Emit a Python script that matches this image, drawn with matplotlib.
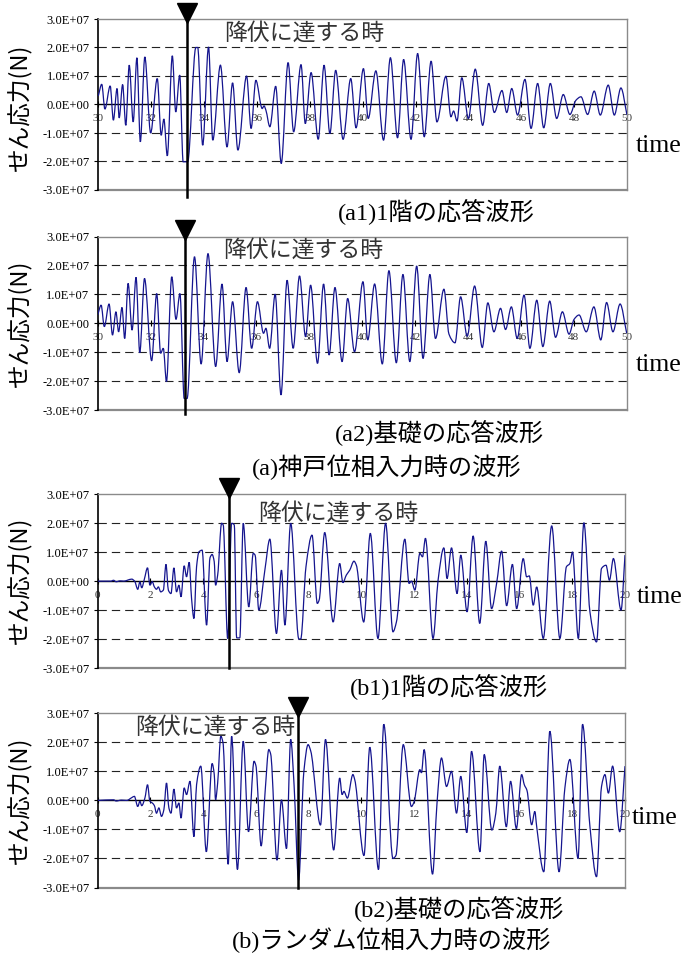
import matplotlib
matplotlib.use('Agg')
import matplotlib.pyplot as plt
import matplotlib.transforms as mtransforms
from matplotlib.path import Path
from matplotlib.patches import PathPatch
import numpy as np

# Shear force waveforms, values in units of 1.0E+07 N
a1_time = [30.00, 30.13, 30.25, 30.45, 30.57, 30.71, 30.79, 30.92, 31.04, 31.17, 31.32, 31.46, 31.59, 31.76,
           31.98, 32.23, 32.38, 32.48, 32.61, 32.80, 32.93, 33.08, 33.21, 33.38, 33.69, 33.76, 33.95, 34.17,
           34.33, 34.62, 34.87, 35.08, 35.28, 35.61, 35.78, 35.96, 36.20, 36.27, 36.34, 36.49, 36.71, 36.92,
           37.18, 37.39, 37.67, 37.83, 38.05, 38.32, 38.54, 38.76, 38.98, 39.26, 39.55, 39.75, 40.03, 40.21,
           40.50, 40.79, 41.05, 41.32, 41.55, 41.83, 42.08, 42.33, 42.59, 42.81, 43.15, 43.34, 43.44, 43.57,
           43.75, 44.00, 44.26, 44.54, 44.77, 44.98, 45.27, 45.45, 45.64, 45.86, 46.14, 46.37, 46.62, 46.85,
           47.10, 47.34, 47.59, 47.84, 48.07, 48.26, 48.51, 48.76, 48.99, 49.29, 49.52, 49.77, 50.00]
a1_force = [0.30, 0.71, -0.16, 0.65, -0.55, 0.56, -0.47, 0.70, -0.73, 1.38, -0.61, 1.64, -1.31, 1.67,
            -1.00, 0.91, -1.08, -0.51, -1.80, 1.71, -0.26, 1.03, -2.01, -2.01, 2.00, 2.00, -1.43, 2.02,
            -1.25, 1.38, -1.49, 0.76, -1.60, 1.00, -0.84, 0.85, -0.14, -0.05, -0.20, -0.78, 0.64, -2.07,
            1.47, -0.96, 1.40, -0.67, 1.12, -1.22, 1.38, -1.02, 1.20, -1.22, 0.91, -0.82, 1.26, -0.49,
            1.18, -1.25, 1.64, -1.17, 1.58, -1.22, 1.79, -1.13, 1.52, -0.61, 0.99, -0.43, -0.23, -0.58,
            0.94, -0.49, 1.24, -0.73, 0.74, -0.28, 0.49, -0.28, 0.56, -0.37, 0.88, -0.84, 0.74, -0.82,
            0.74, -0.49, 0.35, -0.35, 0.15, 0.27, -0.35, 0.47, -0.37, 0.68, -0.37, 0.58, -0.37]

a2_time = [30.00, 30.13, 30.25, 30.43, 30.56, 30.69, 30.79, 30.92, 31.02, 31.15, 31.30, 31.45, 31.59, 31.77,
           32.04, 32.23, 32.38, 32.48, 32.60, 32.80, 32.96, 33.11, 33.27, 33.38, 33.66, 33.91, 34.17, 34.46,
           34.70, 34.89, 35.10, 35.35, 35.61, 35.82, 36.04, 36.27, 36.36, 36.50, 36.71, 36.93, 37.16, 37.39,
           37.63, 37.86, 38.05, 38.31, 38.54, 38.75, 38.97, 39.24, 39.45, 39.71, 40.03, 40.21, 40.47, 40.76,
           41.01, 41.29, 41.54, 41.80, 42.06, 42.30, 42.56, 42.77, 43.09, 43.28, 43.51, 43.72, 43.97, 44.25,
           44.54, 44.75, 44.98, 45.23, 45.42, 45.64, 45.86, 46.12, 46.34, 46.60, 46.83, 47.09, 47.31, 47.57,
           47.82, 48.01, 48.20, 48.47, 48.76, 49.02, 49.24, 49.48, 49.75, 50.00]
a2_force = [0.29, 0.63, -0.11, 0.67, -0.40, 0.40, -0.29, 0.55, -0.52, 1.38, -0.23, 1.59, -1.01, 1.55,
            -1.29, 1.03, -1.03, -0.86, -2.01, 1.61, 0.14, 1.03, -2.59, -2.59, 2.30, -1.40, 2.41, -1.49,
            1.36, -1.32, 0.75, -1.70, 1.24, -0.86, 0.75, -0.34, -0.17, -0.86, 1.01, -2.47, 1.49, -0.86,
            1.64, -0.46, 1.32, -1.38, 1.36, -1.09, 1.24, -1.32, 0.86, -0.98, 1.44, -0.57, 1.36, -1.40,
            1.82, -1.36, 1.69, -1.32, 1.98, -1.21, 1.69, -0.52, 1.18, -0.37, -0.67, 0.92, -0.44, 1.29,
            -0.83, 0.71, -0.29, 0.52, -0.21, 0.57, -0.52, 0.98, -0.86, 0.80, -0.80, 0.77, -0.48, 0.40,
            -0.37, 0.14, 0.29, -0.29, 0.57, -0.57, 0.72, -0.29, 0.67, -0.34]

b1_time = [0.0, 0.5, 0.6, 0.7, 0.85, 1.0, 1.15, 1.29, 1.4, 1.52, 1.6, 1.67, 1.77, 1.89, 1.98, 2.07, 2.15,
           2.23, 2.3, 2.39, 2.49, 2.59, 2.68, 2.78, 2.89, 2.99, 3.08, 3.16, 3.28, 3.37, 3.47, 3.56, 3.65,
           3.75, 3.84, 3.96, 4.13, 4.26, 4.34, 4.42, 4.47, 4.55, 4.7, 4.76, 4.93, 5.08, 5.18, 5.27, 5.39,
           5.52, 5.73, 5.9, 5.97, 6.11, 6.34, 6.53, 6.78, 6.97, 7.1, 7.32, 7.63, 7.7, 7.9, 8.13, 8.33, 8.4,
           8.61, 8.93, 9.18, 9.3, 9.43, 9.56, 9.72, 9.81, 10.09, 10.34, 10.63, 10.92, 11.2, 11.33, 11.65,
           11.81, 11.9, 12.03, 12.22, 12.32, 12.43, 12.72, 12.91, 13.13, 13.25, 13.42, 13.63, 13.77, 14.01,
           14.24, 14.49, 14.72, 14.94, 15.13, 15.32, 15.51, 15.73, 15.89, 16.14, 16.27, 16.37, 16.52, 16.65,
           16.9, 17.22, 17.53, 17.78, 17.91, 18.01, 18.23, 18.44, 18.67, 18.92, 19.11, 19.28, 19.41, 19.56,
           19.85, 20.0]
b1_force = [0.0, 0.0, 0.03, -0.02, 0.01, 0.0, 0.04, 0.07, 0.0, -0.28, -0.02, -0.23, 0.07, 0.46, -0.14,
            -0.02, -0.2, -0.28, -0.2, -0.37, -0.31, 0.58, -0.31, -0.43, 0.46, -0.37, -0.14, -0.54, 0.53,
            0.15, 0.65, -0.6, -1.29, 0.5, 1.01, 1.07, -1.52, 0.81, 0.92, 0.67, -0.14, 0.21, 2.0, 1.94, -1.98,
            2.0, 1.94, -1.96, -1.96, 2.0, -0.89, 0.96, 0.9, -1.0, 0.38, 1.45, -1.81, 0.38, -1.52, 2.0, -2.0,
            -2.0, 0.5, 1.59, -0.77, -0.65, 1.68, -1.41, 0.61, -0.05, 0.21, 0.38, 0.69, 0.55, -1.41, 1.65,
            -1.98, 2.0, -1.75, -1.41, 1.45, -0.08, 0.0, -0.31, 0.96, 0.84, 1.48, -1.98, 0.03, 1.15, 0.09,
            1.15, -0.43, 0.9, -1.06, 1.56, -1.46, 1.38, -0.95, -0.08, 1.04, -0.85, 0.58, -0.95, 0.78, 0.15,
            0.18, -0.83, -0.2, -1.98, 1.91, -1.98, 0.5, 0.61, 1.01, -1.98, 2.02, -1.06, -2.1, 0.44, 0.55,
            0.03, 0.78, -1.0, 0.9]

b2_time = [0.0, 0.6, 0.7, 0.9, 1.1, 1.3, 1.39, 1.52, 1.6, 1.67, 1.79, 1.89, 1.98, 2.07, 2.15, 2.23, 2.32,
           2.42, 2.51, 2.61, 2.7, 2.78, 2.89, 2.99, 3.08, 3.16, 3.28, 3.37, 3.5, 3.65, 3.75, 3.91, 4.12, 4.34,
           4.42, 4.47, 4.55, 4.67, 4.75, 4.95, 5.08, 5.3, 5.52, 5.72, 5.93, 6.0, 6.2, 6.35, 6.49, 6.56, 6.8,
           6.97, 7.16, 7.32, 7.45, 7.62, 7.82, 7.98, 8.08, 8.45, 8.64, 8.95, 9.18, 9.27, 9.34, 9.47, 9.68,
           9.75, 10.1, 10.32, 10.65, 10.85, 11.2, 11.31, 11.59, 11.9, 12.0, 12.22, 12.28, 12.38, 12.7, 12.87,
           13.04, 13.23, 13.42, 13.61, 13.77, 14.0, 14.18, 14.5, 14.66, 14.95, 15.1, 15.25, 15.5, 15.66,
           15.88, 16.08, 16.18, 16.28, 16.46, 16.58, 16.65, 16.92, 17.15, 17.5, 17.72, 17.91, 18.22, 18.39,
           18.67, 18.92, 19.11, 19.24, 19.37, 19.53, 19.8, 20.0]
b2_force = [0.0, 0.02, -0.02, 0.01, 0.0, 0.1, 0.14, -0.21, -0.03, -0.18, 0.08, 0.54, -0.03, -0.09, -0.18,
            -0.44, -0.26, -0.55, -0.32, 0.6, -0.26, -0.44, 0.39, -0.26, -0.09, -0.61, 0.43, 0.2, 0.66, -1.25,
            0.54, 1.18, -1.77, 1.27, 0.9, 0.02, 0.6, 2.21, 2.0, -2.2, 2.21, -2.38, 2.04, -1.08, 1.35, 1.2,
            -1.57, 0.3, 1.75, 1.6, -2.06, 0.02, -1.66, 2.1, 0.5, -2.75, 1.0, 1.92, 1.7, -0.85, 2.1, -1.71,
            0.77, 0.2, 0.31, 0.08, 0.89, 0.71, -1.9, 1.83, -2.38, 2.62, -2.0, -1.9, 1.92, -0.21, -0.05, 1.06,
            0.95, 1.75, -2.54, -0.09, 1.46, 0.48, 1.0, -0.44, 0.83, -1.11, 1.69, -1.77, 1.58, -1.02, -0.44,
            1.18, -0.91, 0.66, -0.97, 0.89, 0.54, 0.35, -0.84, -0.38, -0.9, -2.46, 2.38, -2.46, 0.43, 1.41,
            -2.0, 2.62, -0.9, -2.63, 0.48, 0.89, 0.25, 1.18, -1.08, 1.18]

# Time at which yielding is reached, per panel
yield_times = [33.35, 33.31, 4.98, 7.58]

panel_titles = ['(a1)1階の応答波形', '(a2)基礎の応答波形', '(b1)1階の応答波形', '(b2)基礎の応答波形']
group_titles = ['(a)神戸位相入力時の波形', '(b)ランダム位相入力時の波形']
y_ticks = [-3.0e7, -2.0e7, -1.0e7, 0.0, 1.0e7, 2.0e7, 3.0e7]

W, H = 685, 963
WAVE = '#15158f'
GREY = '#8a8a8a'
SERIF_JP = ['Liberation Serif', 'Noto Sans CJK JP']
GOTHIC = ['Noto Sans CJK JP', 'DejaVu Sans']

fig = plt.figure(figsize=(W / 100, H / 100), dpi=100)


def put_text(x, y, s, size, family, color='black', **kw):
    # place text by pixel position of its left edge and vertical centre
    fig.text(x / W, 1 - y / H, s, fontsize=size, family=family, color=color,
             ha='left', va='center', **kw)


def smooth_path(xs, ys):
    # smoothed line through every point: monotone (Fritsch-Carlson) tangents,
    # each segment drawn as one cubic Bezier, so peaks stay where they were read
    x = np.asarray(xs, float)
    y = np.asarray(ys, float)
    h = np.diff(x)
    d = np.diff(y) / h
    m = np.zeros_like(y)
    m[0], m[-1] = d[0], d[-1]
    for i in range(1, len(y) - 1):
        if d[i - 1] * d[i] > 0:
            w1 = 2 * h[i] + h[i - 1]
            w2 = h[i] + 2 * h[i - 1]
            m[i] = (w1 + w2) / (w1 / d[i - 1] + w2 / d[i])
    verts = [(x[0], y[0])]
    codes = [Path.MOVETO]
    for i in range(len(x) - 1):
        verts += [(x[i] + h[i] / 3, y[i] + m[i] * h[i] / 3),
                  (x[i + 1] - h[i] / 3, y[i + 1] - m[i + 1] * h[i] / 3),
                  (x[i + 1], y[i + 1])]
        codes += [Path.CURVE4] * 3
    return Path(verts, codes)


def draw_panel(box, times, force, x_ticks, t_yield, line_bottom):
    l, t, r, b = box
    ax = fig.add_axes([l / W, 1 - b / H, (r - l) / W, (b - t) / H])
    ax.set_xlim(x_ticks[0], x_ticks[-1])
    ax.set_ylim(-3.0e7, 3.0e7)

    for y in (-2.0e7, -1.0e7, 1.0e7, 2.0e7):
        ax.axhline(y, color='#222222', lw=0.8, dashes=(7.5, 4.5), zorder=1)
    ax.axhline(-3.0e7, color=GREY, lw=1.6, clip_on=False, zorder=1)

    wave = smooth_path(times, np.array(force) * 1e7)
    ax.add_patch(PathPatch(wave, fill=False, edgecolor=WAVE, lw=0.9, zorder=3))

    for side in ('top', 'right'):
        ax.spines[side].set_color(GREY)
        ax.spines[side].set_linewidth(1.0)
    ax.spines['left'].set_color('black')
    ax.spines['left'].set_linewidth(1.2)
    ax.spines['bottom'].set_position(('data', 0))
    ax.spines['bottom'].set_linewidth(1.0)
    ax.spines['bottom'].set_zorder(2)

    ax.set_xticks(x_ticks)
    ax.set_xticklabels([str(v) for v in x_ticks])
    ax.tick_params(axis='x', direction='inout', length=4, width=0.8, pad=5,
                   labelsize=8, labelcolor='#333333', labelfontfamily='Liberation Serif')
    ax.set_yticks(y_ticks)
    ax.set_yticklabels(['{:.1E}'.format(v) for v in y_ticks])
    ax.tick_params(axis='y', direction='out', length=3, width=0.8, pad=3,
                   labelsize=9, labelfontfamily='Liberation Serif')

    # yield marker: vertical line with a downward triangle on top
    trans = mtransforms.blended_transform_factory(ax.transData, ax.transAxes)
    ax.plot([t_yield, t_yield], [line_bottom, 1.0], color='black', lw=1.8,
            transform=trans, clip_on=False, zorder=5)
    ax.plot([t_yield], [1.035], marker='v', ms=14, color='black', mec='black',
            transform=trans, clip_on=False, zorder=5)
    return ax


a_ticks = list(range(30, 51, 2))
b_ticks = list(range(0, 21, 2))

draw_panel((98.3, 19.0, 627.0, 190.0), a1_time, a1_force, a_ticks, yield_times[0], -0.04)
draw_panel((97.7, 236.5, 626.7, 410.3), a2_time, a2_force, a_ticks, yield_times[1], -0.02)
draw_panel((97.7, 494.3, 625.0, 668.0), b1_time, b1_force, b_ticks, yield_times[2], 0.0)
draw_panel((97.7, 713.3, 625.0, 887.5), b2_time, b2_force, b_ticks, yield_times[3], 0.0)

# labels around the panels
for yc in (107, 323, 580, 800):
    put_text(8, yc, 'せん応力(N)', 17, GOTHIC, rotation=90)

for x, y in ((224, 33), (223, 250), (258, 513), (135, 727)):
    put_text(x, y, '降伏に達する時', 16.5, GOTHIC, color='#333333')

for x, y in ((636, 146), (636, 365), (637, 597), (632, 818)):
    put_text(x, y, 'time', 18.5, ['Liberation Serif'])

for (x, y), s in zip(((338, 211), (335, 432), (350, 686), (354, 908)), panel_titles):
    put_text(x, y, s, 17.5, SERIF_JP)

put_text(252, 467, group_titles[0], 17.5, SERIF_JP)
put_text(232, 940, group_titles[1], 17.5, SERIF_JP)

fig.savefig('out.png', dpi=100)
